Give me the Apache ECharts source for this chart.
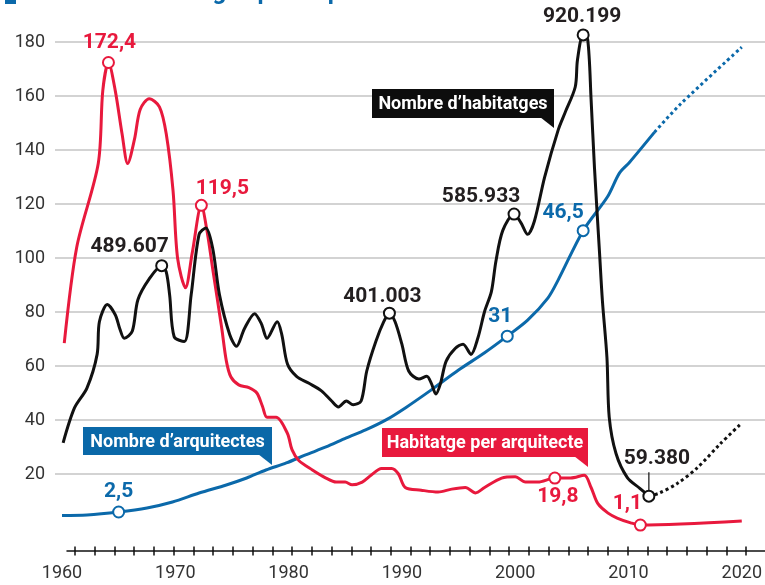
<!DOCTYPE html>
<html>
<head>
<meta charset="utf-8">
<title>Habitatges per arquitecte</title>
<script src="https://cdn.jsdelivr.net/npm/echarts@6/dist/echarts.min.js"></script>
<style>
  html, body { margin: 0; padding: 0; background: #fff; }
  #chart { width: 765px; height: 585px; }
</style>
</head>
<body>
<div id="chart"></div>
<script>
// Habitatge per arquitecte (left axis)
const redYears = [1960.2, 1961.3, 1963.2, 1963.6, 1964.1, 1964.7, 1965.3, 1965.8, 1966.4, 1966.9,
  1967.7, 1968.6, 1969.2, 1969.8, 1970.2, 1970.9, 1971.5, 1972.3, 1972.8, 1973.3,
  1974.1, 1974.5, 1974.9, 1975.6, 1976.5, 1977.2, 1977.7, 1978.1, 1978.9, 1979.9,
  1980.3, 1980.9, 1982.1, 1983.3, 1984.2, 1985.0, 1985.6, 1986.5, 1987.3, 1988.2,
  1989.1, 1989.7, 1990.3, 1991.7, 1993.2, 1994.4, 1995.6, 1996.5, 1997.3, 1998.8,
  2000.0, 2000.9, 2002.0, 2003.5, 2004.9, 2006.1, 2006.7, 2007.3, 2008.2, 2009.0,
  2010.2, 2011.05, 2020];
const redValues = [68.5, 104, 135, 162, 172.4, 162, 146, 135, 144, 155,
  159, 156, 146, 125, 100, 89, 102, 119.5, 110, 96,
  74, 62, 56, 53, 52, 50, 45, 41, 41, 35,
  29, 25, 21.5, 18.5, 17, 17, 16, 17, 19.6, 22,
  22, 20, 15, 14, 13.3, 14.4, 15, 13, 15, 18.5,
  19, 17, 17, 18.5, 18.5, 19.5, 15, 9, 5.5, 3.7,
  1.9, 1.1, 2.6];

// Nombre d'habitatges (thousands)
const blackYears = [1960.1, 1961.1, 1962.2, 1963.1, 1963.3, 1964.0, 1964.7, 1965.1, 1965.5, 1966.2,
  1966.7, 1967.7, 1968.8, 1969.2, 1969.5, 1969.9, 1970.8, 1971.4, 1972.1, 1972.7,
  1973.3, 1973.9, 1974.8, 1975.4, 1976.1, 1977.0, 1977.6, 1978.1, 1979.0, 1979.4,
  1979.9, 1980.7, 1981.8, 1982.9, 1983.8, 1984.4, 1985.1, 1985.7, 1986.4, 1986.9,
  1987.7, 1988.4, 1988.9, 1989.4, 1990.0, 1990.6, 1991.5, 1992.2, 1992.6, 1993.0,
  1993.4, 1993.9, 1994.7, 1995.4, 1996.1, 1996.7, 1997.3, 1997.9, 1998.3, 1998.9,
  1999.9, 2000.5, 2001.1, 2001.7, 2002.6, 2003.8, 2004.4, 2005.3, 2005.5, 2006.0,
  2006.4, 2006.7, 2007.0, 2007.45, 2007.7, 2008.1, 2008.3, 2008.9, 2009.9, 2011.0,
  2011.8];
const blackValues = [159, 224, 261, 324, 385, 417, 398, 372, 354, 367,
  426, 465, 489.607, 478, 435, 357, 348, 435, 548, 560,
  522, 435, 361, 339, 372, 400, 381, 354, 385, 361,
  306, 283, 270, 256, 237, 226, 237, 230, 237, 293,
  348, 385, 401.003, 385, 343, 293, 278, 283, 270, 250,
  269, 311, 335, 343, 324, 354, 404, 441, 498, 555,
  585.933, 570, 548, 573, 655, 743, 775, 823, 874, 920.199,
  912, 800, 672, 512, 424, 318, 207, 139, 94, 74,
  59.38];
const blackForecastYears = [2011.8, 2012.7, 2014.3, 2016.1, 2018.1, 2020];
const blackForecastValues = [59.38, 65, 83, 113, 157, 196];

// Nombre d'arquitectes (thousands)
const blueYears = [1960.0, 1962.2, 1965.0, 1967.5, 1969.75, 1972.1, 1974.5, 1976.3, 1978.0, 1979.8,
  1981.5, 1983.3, 1985.1, 1986.8, 1988.6, 1990.4, 1992.6, 1995.0, 1997.3, 1999.3,
  2001.1, 2002.9, 2003.8, 2006.0, 2008.15, 2009.2, 2010.1, 2012.3];
const blueValues = [1.95, 2.03, 2.5, 3.13, 4.07, 5.47, 6.73, 7.82, 9.07, 10.17,
  11.42, 12.67, 14.08, 15.33, 16.9, 18.9, 21.6, 24.7, 27.4, 30.0,
  32.5, 36, 38.8, 46.5, 51.8, 55.5, 57.2, 61.9];
const blueForecastYears = [2012.3, 2014.6, 2020];
const blueForecastValues = [61.9, 66.3, 75.2];

// highlighted points
const redMarkYears = [1964.1, 1972.3, 2003.5, 2011.05];
const redMarkValues = [172.4, 119.5, 18.5, 1.1];
const redMarkLabels = ['172,4', '119,5', '19,8', '1,1'];
const blackMarkYears = [1968.8, 1988.9, 1999.9, 2006.0, 2011.8];
const blackMarkValues = [489.607, 401.003, 585.933, 920.199, 59.38];
const blackMarkLabels = ['489.607', '401.003', '585.933', '920.199', '59.380'];
const blueMarkYears = [1965.0, 1999.3, 2006.0];
const blueMarkValues = [2.5, 30.0, 46.5];
const blueMarkLabels = ['2,5', '31', '46,5'];

const yTicks = [0, 180, 20];      // min, max, step
const xTicks = [1960, 2020, 10];

const RED = '#e8193d';
const BLUE = '#0b69aa';
const BLACK = '#111111';
const FONT = 'Roboto, "Noto Sans", sans-serif';

// label offsets from the marker centre, same order as the marker arrays
const redOffsets = [[1, -20], [21, -17], [3, 19], [-13, -21]];
const blackOffsets = [[-32, -19], [-7, -16], [-33, -17], [-1, -18], [8, -37]];
const blueOffsets = [[0, -20], [-7, -19], [-20, -18]];

const pairs = (xs, ys) => xs.map((x, i) => [x, ys[i]]);

function lineSeries(xs, ys, color, yAxisIndex, dotted) {
  return {
    type: 'line',
    xAxisIndex: 0,
    yAxisIndex: yAxisIndex,
    data: pairs(xs, ys),
    smooth: 0.3,
    clip: false,
    symbol: 'none',
    z: 3,
    lineStyle: { color: color, width: 3, type: dotted ? [3, 3] : 'solid', cap: 'butt' },
  };
}

function markerSeries(xs, ys, labels, offsets, color, textColor, yAxisIndex) {
  return {
    type: 'scatter',
    xAxisIndex: 0,
    yAxisIndex: yAxisIndex,
    symbol: 'circle',
    symbolSize: 11,
    clip: false,
    z: 6,
    itemStyle: { color: '#fff', borderColor: color, borderWidth: 2, opacity: 1 },
    label: {
      show: true,
      position: 'inside',
      fontFamily: FONT,
      fontWeight: 'bold',
      fontSize: 21,
      color: textColor,
    },
    data: xs.map((x, i) => ({
      value: [x, ys[i]],
      label: { formatter: labels[i], offset: offsets[i] },
    })),
  };
}

const chart = echarts.init(document.getElementById('chart'), null, { renderer: 'canvas' });

chart.setOption({
  animation: false,
  backgroundColor: '#fff',
  textStyle: { fontFamily: FONT },
  grid: [
    { left: 62, right: 20, top: 42, bottom: 57 },   // data
    { left: 55, right: 0, top: 42, bottom: 57 },    // gridlines + y labels
    { left: 75, right: 19, top: 42, bottom: 38.5 }, // tick marks
    { left: 67, right: 0, top: 42, bottom: 34 },    // axis line
  ],
  xAxis: [
    {
      gridIndex: 0, type: 'value', min: xTicks[0], max: xTicks[1], interval: xTicks[2],
      axisLine: { show: false }, axisTick: { show: false }, splitLine: { show: false },
      axisLabel: { margin: 36, fontSize: 18, color: '#333', formatter: (v) => String(v) },
    },
    { gridIndex: 1, type: 'value', min: 0, max: 1, show: false },
    {
      gridIndex: 2, type: 'value', min: 0, max: 34, interval: 1,
      axisLine: { show: false }, axisLabel: { show: false }, splitLine: { show: false },
      axisTick: { show: true, length: 9, lineStyle: { color: BLACK, width: 1.5 } },
    },
    {
      gridIndex: 3, type: 'value', min: 0, max: 1,
      axisLine: { show: true, lineStyle: { color: BLACK, width: 1.5 } },
      axisTick: { show: false }, axisLabel: { show: false }, splitLine: { show: false },
    },
  ],
  yAxis: [
    { gridIndex: 0, type: 'value', min: yTicks[0], max: yTicks[1], show: false },
    {
      gridIndex: 1, type: 'value', min: yTicks[0], max: yTicks[1], interval: yTicks[2],
      axisLine: { show: false }, axisTick: { show: false },
      axisLabel: { margin: 10, fontSize: 18, color: '#333', showMinLabel: false },
      splitLine: { show: true, showMinLine: false, lineStyle: { color: '#c4c4c4', width: 1.5 } },
    },
    { gridIndex: 0, type: 'value', min: 0, max: 907, show: false },
    { gridIndex: 0, type: 'value', min: 0, max: 76, show: false },
    { gridIndex: 2, type: 'value', min: 0, max: 1, show: false },
    { gridIndex: 3, type: 'value', min: 0, max: 1, show: false },
  ],
  series: [
    lineSeries(blueYears, blueValues, BLUE, 3, false),
    lineSeries(blueForecastYears, blueForecastValues, BLUE, 3, true),
    lineSeries(redYears, redValues, RED, 0, false),
    lineSeries(blackYears, blackValues, BLACK, 2, false),
    lineSeries(blackForecastYears, blackForecastValues, BLACK, 2, true),
    markerSeries(blueMarkYears, blueMarkValues, blueMarkLabels, blueOffsets, BLUE, BLUE, 3),
    markerSeries(redMarkYears, redMarkValues, redMarkLabels, redOffsets, RED, RED, 0),
    markerSeries(blackMarkYears, blackMarkValues, blackMarkLabels, blackOffsets, BLACK, '#231f20', 2),
  ],
});

function callout(x, y, w, h, color, text) {
  return {
    type: 'group',
    z: 100,
    children: [
      { type: 'rect', shape: { x: x, y: y, width: w, height: h }, style: { fill: color } },
      {
        type: 'polygon',
        shape: { points: [[x + w - 14, y + h - 1], [x + w, y + h - 1], [x + w, y + h + 10]] },
        style: { fill: color },
      },
      {
        type: 'text',
        style: {
          text: text, x: x + w / 2, y: y + h / 2 + 1,
          font: 'bold 18px ' + FONT, fill: '#fff',
          textAlign: 'center', textVerticalAlign: 'middle',
        },
      },
    ],
  };
}

// leader line above the last housing marker
const last = chart.convertToPixel({ xAxisIndex: 0, yAxisIndex: 2 },
  [blackMarkYears[4], blackMarkValues[4]]);

chart.setOption({
  graphic: [
    { type: 'rect', shape: { x: 5, y: -6, width: 11, height: 10 }, style: { fill: BLUE } },
    {
      type: 'text',
      style: {
        text: 'Nombre d\u2019habitatges per arquitecte', x: 26, y: 5,
        font: 'bold 24px ' + FONT, fill: BLUE, textVerticalAlign: 'bottom',
      },
    },
    callout(372, 89, 182, 29, '#0d0d0d', 'Nombre d\u2019habitatges'),
    callout(83, 427, 189, 28, '#0a68a8', 'Nombre d\u2019arquitectes'),
    callout(382, 428, 206, 29, '#e8193d', 'Habitatge per arquitecte'),
    {
      type: 'line', z: 5,
      shape: { x1: last[0], y1: last[1] - 6, x2: last[0], y2: last[1] - 24 },
      style: { stroke: BLACK, lineWidth: 1.2 },
    },
  ],
});
</script>
</body>
</html>
